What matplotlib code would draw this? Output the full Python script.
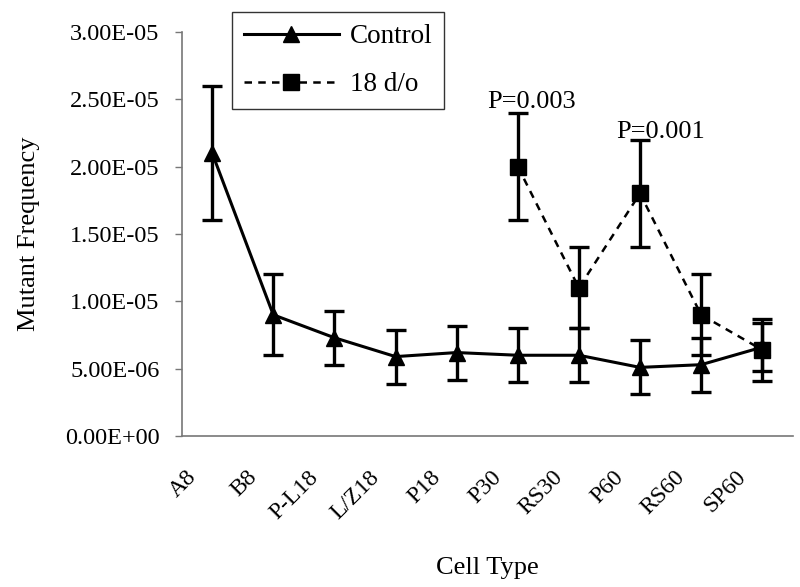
import matplotlib
matplotlib.use('Agg')
import matplotlib.pyplot as plt
import matplotlib.transforms as mtransforms
from matplotlib.lines import Line2D
import numpy as np

cells = ['A8', 'B8', 'P-L18', 'L/Z18', 'P18', 'P30', 'RS30', 'P60', 'RS60', 'SP60']
control = [2.1e-5, 9.0e-6, 7.3e-6, 5.9e-6, 6.2e-6, 6.0e-6, 6.0e-6, 5.1e-6, 5.3e-6, 6.6e-6]
control_err = [5.0e-6, 3.0e-6, 2.0e-6, 2.0e-6, 2.0e-6, 2.0e-6, 2.0e-6, 2.0e-6, 2.0e-6, 1.8e-6]
dko = [np.nan, np.nan, np.nan, np.nan, np.nan, 2.0e-5, 1.1e-5, 1.8e-5, 9.0e-6, 6.4e-6]
dko_err = [np.nan, np.nan, np.nan, np.nan, np.nan, 4.0e-6, 3.0e-6, 4.0e-6, 3.0e-6, 2.3e-6]
yticks = [0, 5e-6, 1e-5, 1.5e-5, 2e-5, 2.5e-5, 3e-5]
ytick_labels = ['0.00E+00', '5.00E-06', '1.00E-05', '1.50E-05', '2.00E-05', '2.50E-05', '3.00E-05']

plt.rcParams['font.family'] = ['Liberation Serif', 'DejaVu Serif']

fig = plt.figure(figsize=(8, 5.87), dpi=100)
ax = fig.add_axes([0.227, 0.257, 0.764, 0.689])
x = np.arange(len(cells))

dash = (0, (3, 2.5))
ax.errorbar(x, control, yerr=control_err, color='black', lw=2.2, marker='^', ms=11,
            elinewidth=2.4, capsize=7, capthick=2.4, zorder=3)
ax.errorbar(x, dko, yerr=dko_err, color='black', lw=1.8, ls=dash, marker='s', ms=11,
            elinewidth=2.4, capsize=7, capthick=2.4, zorder=3)

ax.text(5.23, 2.48e-5, 'P=0.003', fontsize=19, ha='center', va='center')
ax.text(7.33, 2.255e-5, 'P=0.001', fontsize=19, ha='center', va='center')

ax.set_xlim(-0.5, 9.5)
ax.set_ylim(0, 3e-5)
ax.set_yticks(yticks)
ax.set_yticklabels(ytick_labels, fontsize=17.5)
ax.tick_params(axis='y', length=5, width=1, color='#777777', pad=11)
ax.set_xticks(x)
ax.set_xticklabels(cells, fontsize=17, rotation=45, ha='right', va='top')
ax.tick_params(axis='x', length=0, pad=22)
offset = mtransforms.ScaledTranslation(-0.12, 0, fig.dpi_scale_trans)
for lbl in ax.get_xticklabels():
    lbl.set_transform(lbl.get_transform() + offset)

for side in ['top', 'right']:
    ax.spines[side].set_visible(False)
for side in ['left', 'bottom']:
    ax.spines[side].set_color('#777777')
    ax.spines[side].set_linewidth(1.2)

ax.set_ylabel('Mutant Frequency', fontsize=19, labelpad=18)
ax.set_xlabel('Cell Type', fontsize=19, labelpad=24)

handles = [
    Line2D([], [], color='black', lw=2.2, marker='^', ms=11),
    Line2D([], [], color='black', lw=1.8, ls=dash, marker='s', ms=11),
]
leg = ax.legend(handles, ['Control', '18 d/o'], loc='upper left',
                bbox_to_anchor=(0.082, 1.049), borderaxespad=0,
                fontsize=19.5, frameon=True, fancybox=False, handlelength=3.5,
                labelspacing=0.85, borderpad=0.45, handletextpad=0.4)
leg.get_frame().set_edgecolor('black')
leg.get_frame().set_linewidth(1.0)

fig.savefig('out.png', dpi=100, facecolor='white')
